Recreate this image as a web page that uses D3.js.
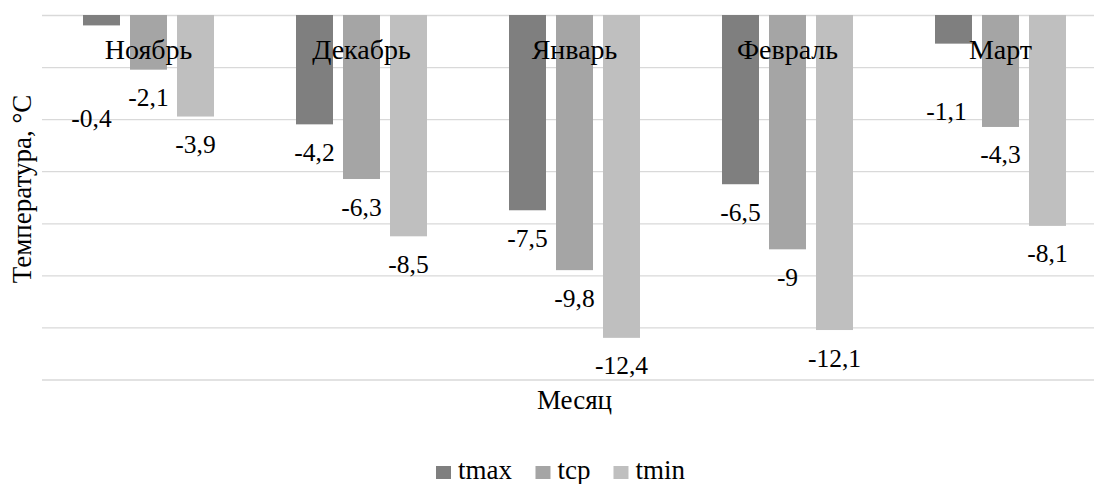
<!DOCTYPE html>
<html><head><meta charset="utf-8">
<script src="https://cdn.jsdelivr.net/npm/d3@7"></script>
<style>
body{margin:0;background:#fff;}
</style></head>
<body><svg id="chart" width="1094" height="484"></svg>
<script>
const categories = ["Ноябрь","Декабрь","Январь","Февраль","Март"];
const seriesNames = ["tmax","tcp","tmin"];
const tmax = [-0.4,-4.2,-7.5,-6.5,-1.1];
const tcp  = [-2.1,-6.3,-9.8,-9,-4.3];
const tmin = [-3.9,-8.5,-12.4,-12.1,-8.1];
const yTicks = [0,-2,-4,-6,-8,-10,-12,-14];
const colors = ["#7f7f7f","#a5a5a5","#bfbfbf"];

const values = [tmax,tcp,tmin];
const svg = d3.select("#chart");
const plot = {left:42, right:1107, top:15, bottom:379.5};
const FONT = "Liberation Serif";

const x0 = d3.scaleBand().domain(categories).range([plot.left, plot.right]).paddingInner(72/213).paddingOuter(36/213);
const x1 = d3.scaleBand().domain(seriesNames).range([0, x0.bandwidth()]).paddingInner(10/47).paddingOuter(5/47);
const y = d3.scaleLinear().domain([0,-14]).range([plot.top, plot.bottom]);

// gridlines
const grid = svg.append("g").attr("transform",`translate(${plot.left},0)`)
  .call(d3.axisLeft(y).tickValues(yTicks).tickSize(-(plot.right-plot.left)).tickFormat(""));
grid.select(".domain").remove();
grid.selectAll("line").attr("stroke","#d9d9d9").attr("stroke-width",1.3);

function txt(g, x, yy, s, fs, anchor){
  return g.append("text").attr("x",x).attr("y",yy)
    .attr("text-anchor",anchor||"middle").attr("font-size",fs)
    .attr("font-family",FONT).attr("fill","#000").text(s);
}
const fmt = v => String(v).replace(".", ",");

// bars
const groups = svg.append("g");
categories.forEach((c,i)=>{
  seriesNames.forEach((s,j)=>{
    const v = values[j][i];
    groups.append("rect").attr("x", x0(c)+x1(s)).attr("y", y(0))
      .attr("width", x1.bandwidth()).attr("height", y(v)-y(0)).attr("fill", colors[j]);
  });
});

// category labels
const labels = svg.append("g");
categories.forEach(c=>{
  txt(labels, x0(c)+x0.bandwidth()/2, 58.5, c, 28);
});

// value labels (small tmax labels moved down manually as in source)
const nudge = {"0-0":[-10,64.6], "4-0":[-7,40]};
categories.forEach((c,i)=>{
  seriesNames.forEach((s,j)=>{
    const v = values[j][i];
    const n = nudge[i+"-"+j] || [0,0];
    txt(labels, x0(c)+x1(s)+x1.bandwidth()/2 + n[0], y(v)+28+n[1]+8.5, fmt(v), 25.5);
  });
});

// axis titles
txt(svg, 0, 0, "Температура, °C", 27).attr("transform","translate(31,189) rotate(-90)");
txt(svg, (plot.left+plot.right)/2, 409, "Месяц", 27);

// legend
const leg = svg.append("g");
let lx = 436;
seriesNames.forEach((s,j)=>{
  leg.append("rect").attr("x",lx).attr("y",466).attr("width",15).attr("height",13).attr("fill",colors[j]);
  const t = txt(leg, lx+22, 479, s, 27, "start");
  const w = t.node().getBBox().width;
  lx += 22 + w + 23;
});
</script></body></html>
